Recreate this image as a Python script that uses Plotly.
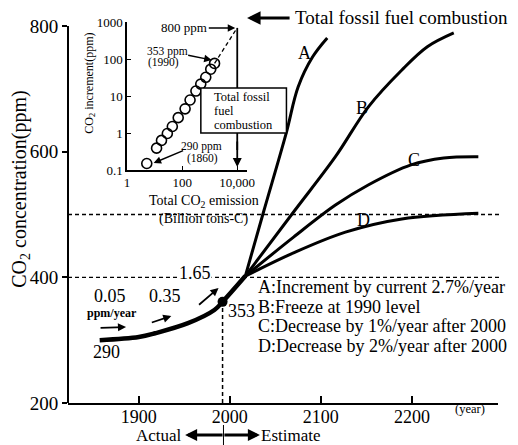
import plotly.graph_objects as go

# ---------------- data ----------------
# historical curve (year, ppm)
hist_year = [1857, 1900, 1918, 1954, 1983, 1992, 2017]
hist_ppm = [300, 305, 311, 327, 348, 361, 402]

# scenario curves
a_year = [2017, 2037, 2062, 2075, 2091, 2107]
a_ppm = [402, 504, 630, 703, 751, 781]
b_year = [2017, 2070, 2116, 2152, 2189, 2217, 2246]
b_ppm = [402, 504, 592, 671, 730, 767, 789]
c_year = [2017, 2070, 2116, 2152, 2199, 2235, 2273]
c_ppm = [402, 464, 515, 547, 579, 590, 592]
d_year = [2017, 2070, 2127, 2189, 2273]
d_ppm = [402, 439, 472, 493, 502]

# inset: CO2 increment vs total CO2 emission
inset_emission = [5.2, 11.8, 17.8, 29, 44, 72, 128, 194, 316, 474, 720, 1090, 1500]
inset_increment = [0.15, 0.39, 0.63, 0.97, 1.5, 2.6, 4.5, 7.8, 13.6, 21, 32, 53, 76]
proj_emission = [1500, 10000]
proj_increment = [76, 700]

main_yticks = [200, 400, 600, 800]
main_xticks = [1900, 2000, 2100, 2200]
ref_levels = [400, 500]
inset_yticks = [0.1, 1, 10, 100, 1000]
inset_yticktext = ["0.1", "1", "10", "100", "1000"]
inset_xticks = [1, 100, 10000]
inset_xticktext = ["1", "100", "10,000"]

legend_lines = [
    "A:Increment by current 2.7%/year",
    "B:Freeze at 1990 level",
    "C:Decrease by 1%/year after 2000",
    "D:Decrease by 2%/year after 2000",
]

FONT = "Liberation Serif"
W, H = 518, 445
L, R, T, B = 68, 13, 22, 42
PW, PH = W - L - R, H - T - B


def PX(x):
    return (x - L) / PW


def PY(y):
    return (H - B - y) / PH


fig = go.Figure()

# main curves
fig.add_trace(go.Scatter(x=hist_year, y=hist_ppm, mode="lines", line=dict(color="black", width=4.5, shape="spline"),
                         hoverinfo="skip"))
for xs, ys in [(a_year, a_ppm), (b_year, b_ppm), (c_year, c_ppm), (d_year, d_ppm)]:
    fig.add_trace(go.Scatter(x=xs, y=ys, mode="lines", line=dict(color="black", width=3, shape="spline"),
                             hoverinfo="skip"))
# 1990 dot
fig.add_trace(go.Scatter(x=[hist_year[5]], y=[hist_ppm[5]], mode="markers",
                         marker=dict(color="black", size=10), hoverinfo="skip"))

# inset traces
fig.add_trace(go.Scatter(x=proj_emission, y=proj_increment, mode="lines", xaxis="x2", yaxis="y2",
                         line=dict(color="black", width=1.3, dash="4px,3px"), hoverinfo="skip"))
fig.add_trace(go.Scatter(x=inset_emission, y=inset_increment, mode="markers", xaxis="x2", yaxis="y2",
                         marker=dict(symbol="circle-open", size=10, color="black", line=dict(width=1.6)),
                         hoverinfo="skip"))

shapes = []
# main y axis line 200..800
shapes.append(dict(type="line", xref="paper", yref="y", x0=0, x1=0, y0=200, y1=800,
                   line=dict(color="black", width=2)))
# dashed reference lines
for lv in ref_levels:
    shapes.append(dict(type="line", xref="paper", yref="y", x0=0, x1=PX(507), y0=lv, y1=lv,
                       line=dict(color="black", width=1.3, dash="4px,3px")))
# vertical dashed line at 1990
shapes.append(dict(type="line", xref="x", yref="y", x0=hist_year[5], x1=hist_year[5], y0=200, y1=hist_ppm[5],
                   line=dict(color="black", width=1.5, dash="4px,3px")))
# actual / estimate divider
shapes.append(dict(type="line", xref="paper", yref="paper", x0=PX(226), x1=PX(226), y0=PY(425), y1=PY(445),
                   line=dict(color="black", width=1)))
# inset vertical line (total fossil fuel combustion)
shapes.append(dict(type="line", xref="paper", yref="paper", x0=PX(240), x1=PX(240), y0=PY(28), y1=PY(150),
                   line=dict(color="black", width=1.8)))
# inset box
shapes.append(dict(type="rect", xref="paper", yref="paper", x0=PX(203), x1=PX(290), y0=PY(133), y1=PY(88),
                   line=dict(color="black", width=1.5), fillcolor="white", layer="above"))

ann = []


def text(x, y, s, size, xanchor="center", bold=False, bg=None, angle=0):
    d = dict(xref="paper", yref="paper", x=PX(x), y=PY(y), text=("<b>%s</b>" % s) if bold else s,
             showarrow=False, xanchor=xanchor, yanchor="middle",
             font=dict(family=FONT, size=size, color="black"), textangle=angle)
    if bg:
        d["bgcolor"] = bg
        d["borderpad"] = 0
    ann.append(d)


def arrow(x0, y0, x1, y1, width=1.5, head=2, size=1.0):
    # tail (x0,y0) -> head (x1,y1), pixel coordinates
    ann.append(dict(xref="paper", yref="paper", x=PX(x1), y=PY(y1), ax=x0 - x1, ay=y0 - y1,
                    axref="pixel", ayref="pixel", text="", showarrow=True, arrowhead=head,
                    arrowsize=size, arrowwidth=width, arrowcolor="black"))


# top title with arrow
text(297, 17, "Total fossil fuel combustion", 19, xanchor="left")
arrow(294, 18, 250, 18, width=3, head=2, size=0.9)

# inset annotations
text(186, 28, "800 ppm", 13)
arrow(210, 28, 238, 28, width=1.5, head=2)
text(169, 51, "353 ppm", 11.5)
text(165, 63, "(1990)", 11.5)
arrow(189, 55, 214, 60, width=1.5, head=2)
text(204, 146, "290 ppm", 11.5)
text(205, 159, "(1860)", 11.5)
arrow(186, 150, 155, 163, width=1.5, head=2)
arrow(240, 140, 240, 167, width=1.8, head=2)
text(214, 97, "Total fossil", 12.5, xanchor="left")
text(214, 111, "fuel", 12.5, xanchor="left")
text(214, 125, "combustion", 12.5, xanchor="left")
text(90, 83, "CO<sub>2</sub> increment(ppm)", 12, angle=-90)

# main annotations
text(19, 189, "CO<sub>2</sub> concentration(ppm)", 20, angle=-90)
text(206, 201, "Total CO<sub>2</sub> emission", 14)
text(206, 219, "(Billion tons-C)", 14)
text(308, 53, "A", 18)
text(367, 108, "B", 18)
text(420, 160, "C", 18)
text(368, 220, "D", 18)
text(197, 273, "1.65", 18, bg="white")
text(111, 296, "0.05", 18)
text(113, 313, "ppm/year", 12, bold=True)
text(167, 296, "0.35", 18)
text(107, 352, "290", 18)
text(244, 311, "353", 18)
arrow(100, 328, 127, 327, width=1.8, head=2, size=0.9)
arrow(152, 323, 173, 316, width=1.8, head=2, size=0.9)
arrow(200, 306, 221, 288, width=1.8, head=2, size=0.9)
for i, s in enumerate(legend_lines):
    text(259, 287 + i * 19.6, s, 18, xanchor="left")
text(477, 409, "(year)", 12.5)
text(186, 435, "Actual", 17, xanchor="right")
text(262, 435, "Estimate", 17, xanchor="left")
arrow(226, 435, 187, 435, width=3, head=2, size=0.8)
arrow(226, 435, 263, 435, width=3, head=2, size=0.8)

fig.update_layout(
    width=W, height=H,
    margin=dict(l=L, r=R, t=T, b=B, pad=0),
    paper_bgcolor="white", plot_bgcolor="white",
    showlegend=False,
    font=dict(family=FONT, color="black"),
    xaxis=dict(range=[1822.2, 2294.6], tickvals=main_xticks, ticks="inside", ticklen=7, tickwidth=1.5,
               tickcolor="black", showline=True, linewidth=2, linecolor="black", showgrid=False,
               zeroline=False, tickfont=dict(family=FONT, size=18), ticklabelstandoff=-4),
    yaxis=dict(range=[200, 806.4], tickvals=main_yticks, ticks="outside", ticklen=5, tickwidth=1.5,
               tickcolor="black", showline=False, showgrid=False, zeroline=False,
               tickfont=dict(family=FONT, size=19)),
    xaxis2=dict(type="log", range=[0, 4.357], domain=[PX(128), PX(250)], anchor="y2",
                tickvals=inset_xticks, ticktext=inset_xticktext, ticks="inside", ticklen=4,
                tickcolor="black", showline=True, linewidth=1.5, linecolor="black", showgrid=False,
                zeroline=False, tickfont=dict(family=FONT, size=13)),
    yaxis2=dict(type="log", range=[-1, 3], domain=[PY(170), PY(22)], anchor="x2",
                tickvals=inset_yticks, ticktext=inset_yticktext, ticks="inside", ticklen=4,
                tickcolor="black", showline=True, linewidth=1.5, linecolor="black", showgrid=False,
                zeroline=False, tickfont=dict(family=FONT, size=13)),
    shapes=shapes,
    annotations=ann,
)

fig.write_html("out.html", config={"displayModeBar": False},
               post_script="document.body.style.margin='0';")
